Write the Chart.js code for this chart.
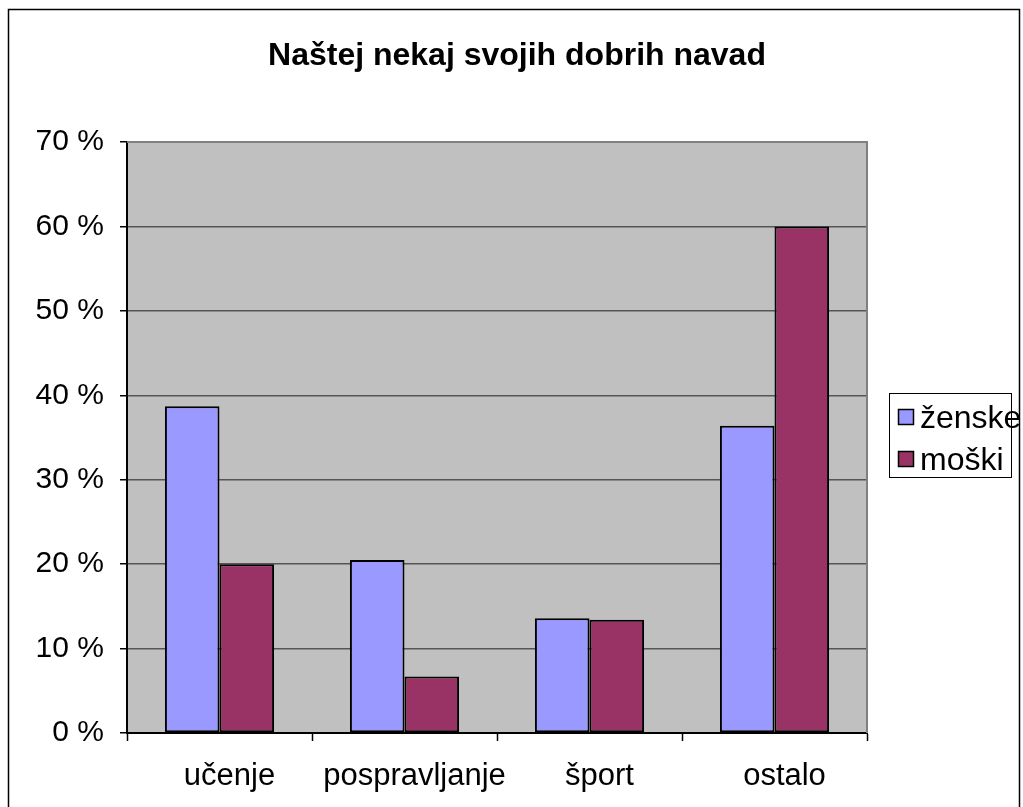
<!DOCTYPE html>
<html>
<head>
<meta charset="utf-8">
<script src="https://cdn.jsdelivr.net/npm/chart.js@4"></script>
<style>
  html, body { margin: 0; padding: 0; background: #fff; }
  #wrap { width: 1023px; height: 807px; }
</style>
</head>
<body>
<div id="wrap"><canvas id="Chart" width="1023" height="807"></canvas></div>
<script>
// dobre navade - ženske / moški
const title = 'Naštej nekaj svojih dobrih navad';
const categories = ['učenje', 'pospravljanje', 'šport', 'ostalo'];
const zenske = [38.7, 20.5, 13.6, 36.4];
const moski = [20.0, 6.7, 13.4, 60.0];
const yTicks = [0, 10, 20, 30, 40, 50, 60, 70];

const font = 'Arial, "Liberation Sans", sans-serif';

// grey plot background, frame, title and the boxed legend
const excelLook = {
  id: 'excelLook',
  beforeDraw(chart) {
    const c = chart.ctx, a = chart.chartArea;
    c.save();
    c.fillStyle = '#fff';
    c.fillRect(0, 0, chart.width, chart.height);
    // outer frame
    c.strokeStyle = '#000';
    c.lineWidth = 1.5;
    c.strokeRect(8.5, 9.5, 1011, 820);
    c.fillStyle = '#C0C0C0';
    c.fillRect(a.left, a.top, a.right - a.left, a.bottom - a.top);
    c.restore();
  },
  afterDraw(chart) {
    const c = chart.ctx, a = chart.chartArea;
    c.save();
    // top and right edge of plot area
    c.strokeStyle = '#808080';
    c.lineWidth = 2;
    c.beginPath();
    c.moveTo(a.left, a.top);
    c.lineTo(a.right, a.top);
    c.lineTo(a.right, a.bottom);
    c.stroke();
    // title
    c.fillStyle = '#000';
    c.font = 'bold 32px ' + font;
    c.textAlign = 'center';
    c.textBaseline = 'middle';
    c.fillText(title, 517, 56);
    // legend
    c.strokeStyle = '#000';
    c.lineWidth = 1;
    c.strokeRect(889.5, 393.5, 122, 84);
    c.font = '32px ' + font;
    c.textAlign = 'left';
    chart.data.datasets.forEach((ds, i) => {
      const y = 417 + i * 42;
      c.fillStyle = ds.backgroundColor;
      c.fillRect(898, y - 8, 15, 15);
      c.lineWidth = 1.5;
      c.strokeRect(898.5, y - 7.5, 15, 15);
      c.fillStyle = '#000';
      c.fillText(ds.label, 920, y + 2);
    });
    c.restore();
  }
};

const ctx = document.getElementById('Chart').getContext('2d');
const myChart = new Chart(ctx, {
  type: 'bar',
  data: {
    labels: categories,
    datasets: [{
      label: 'ženske',
      data: zenske,
      backgroundColor: '#9999FF',
      borderColor: '#000',
      borderWidth: 2,
      borderSkipped: false
    }, {
      label: 'moški',
      data: moski,
      backgroundColor: '#993366',
      borderColor: '#000',
      borderWidth: 2,
      borderSkipped: false
    }]
  },
  options: {
    responsive: false,
    animation: false,
    events: [],
    layout: { padding: { left: 0, right: 156, top: 142, bottom: 0 } },
    datasets: { bar: { categoryPercentage: 0.59, barPercentage: 1 } },
    plugins: {
      legend: { display: false },
      title: { display: false },
      tooltip: { enabled: false }
    },
    scales: {
      x: {
        afterFit(s) { s.height = 74; },
        grid: {
          offset: true,
          drawOnChartArea: false,
          tickLength: 8,
          tickColor: '#000',
          tickWidth: 1.5
        },
        border: { color: '#000', width: 2 },
        ticks: {
          color: '#000',
          font: { family: font, size: 31 },
          padding: 17,
          labelOffset: 10,
          autoSkip: false,
          maxRotation: 0
        }
      },
      y: {
        min: 0,
        max: 70,
        afterFit(s) { s.width = 127; },
        afterBuildTicks(s) { s.ticks = yTicks.map(v => ({ value: v })); },
        grid: {
          color: '#555',
          lineWidth: 1.5,
          tickLength: 7,
          tickColor: '#000',
          tickWidth: 1.5
        },
        border: { color: '#000', width: 2 },
        ticks: {
          color: '#000',
          font: { family: font, size: 30 },
          padding: 16,
          callback: v => v + ' %'
        }
      }
    }
  },
  plugins: [excelLook]
});
</script>
</body>
</html>
